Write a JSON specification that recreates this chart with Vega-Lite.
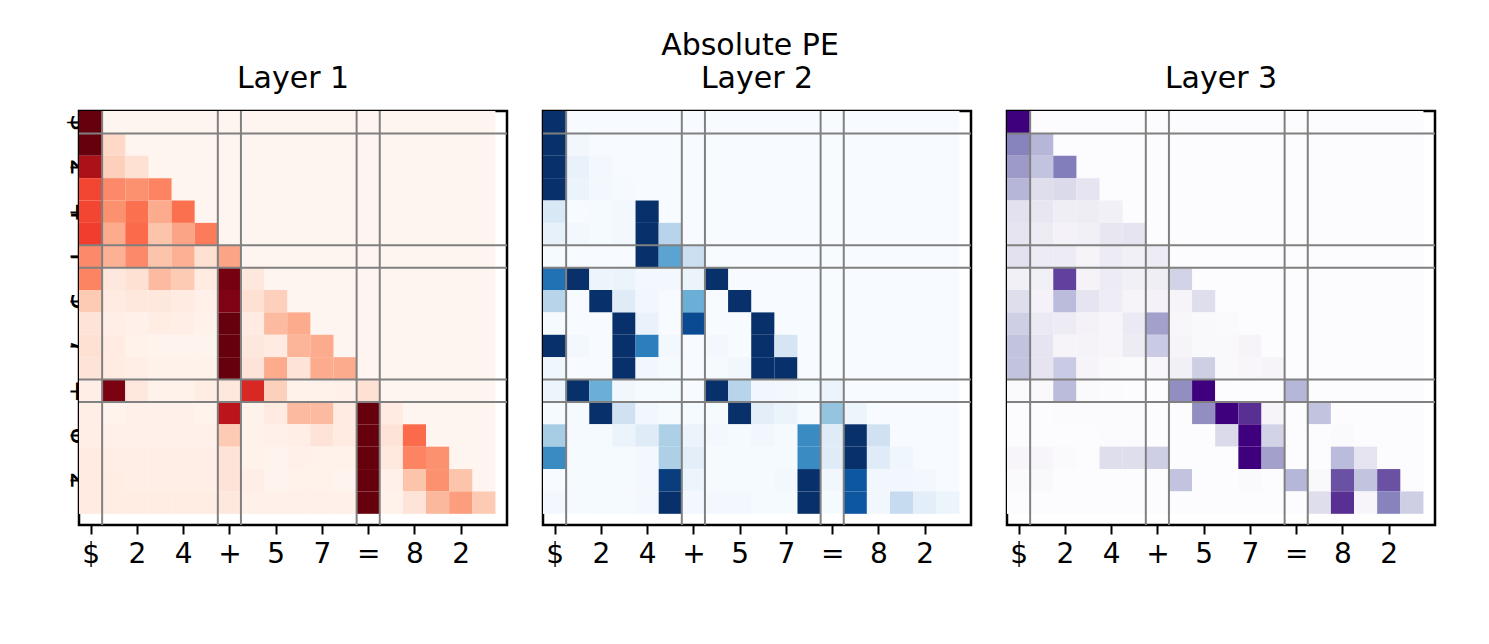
{
  "$schema": "https://vega.github.io/schema/vega-lite/v6.json",
  "padding": {"left": 62, "top": 30, "right": 10, "bottom": 5},
  "background": "white",
  "title": {"text": "Absolute PE", "anchor": "middle", "font": "DejaVu Sans", "fontSize": 30, "fontWeight": "normal", "color": "black", "offset": 2},
  "config": {
    "view": {"stroke": "black", "strokeWidth": 2.5},
    "title": {"font": "DejaVu Sans", "fontSize": 30, "fontWeight": "normal", "color": "black", "offset": 16},
    "axis": {"labelFont": "DejaVu Sans", "labelFontSize": 28, "labelColor": "black", "tickColor": "black", "tickWidth": 2, "tickSize": 9, "domain": false, "grid": false, "title": null, "labelPadding": 6, "labelOverlap": false, "labelFlush": false, "labelBound": false}
  },
  "datasets": {
    "lines": [{"p": 0.5}, {"p": 5.5}, {"p": 6.5}, {"p": 11.5}, {"p": 12.5}],
    "red": [
      {"r":0,"c":0,"v":1},
      {"r":1,"c":0,"v":1},{"r":1,"c":1,"v":0.15},
      {"r":2,"c":0,"v":0.85},{"r":2,"c":1,"v":0.18},{"r":2,"c":2,"v":0.12},
      {"r":3,"c":0,"v":0.6},{"r":3,"c":1,"v":0.4},{"r":3,"c":2,"v":0.38},{"r":3,"c":3,"v":0.42},
      {"r":4,"c":0,"v":0.6},{"r":4,"c":1,"v":0.38},{"r":4,"c":2,"v":0.48},{"r":4,"c":3,"v":0.3},{"r":4,"c":4,"v":0.48},
      {"r":5,"c":0,"v":0.62},{"r":5,"c":1,"v":0.3},{"r":5,"c":2,"v":0.5},{"r":5,"c":3,"v":0.22},{"r":5,"c":4,"v":0.32},{"r":5,"c":5,"v":0.45},
      {"r":6,"c":0,"v":0.4},{"r":6,"c":1,"v":0.28},{"r":6,"c":2,"v":0.4},{"r":6,"c":3,"v":0.22},{"r":6,"c":4,"v":0.28},{"r":6,"c":5,"v":0.12},{"r":6,"c":6,"v":0.32},
      {"r":7,"c":0,"v":0.42},{"r":7,"c":1,"v":0.08},{"r":7,"c":2,"v":0.12},{"r":7,"c":3,"v":0.25},{"r":7,"c":4,"v":0.2},{"r":7,"c":5,"v":0.06},{"r":7,"c":6,"v":0.97},{"r":7,"c":7,"v":0.08},
      {"r":8,"c":0,"v":0.2},{"r":8,"c":1,"v":0.06},{"r":8,"c":2,"v":0.08},{"r":8,"c":3,"v":0.08},{"r":8,"c":4,"v":0.06},{"r":8,"c":5,"v":0.03},{"r":8,"c":6,"v":0.95},{"r":8,"c":7,"v":0.12},{"r":8,"c":8,"v":0.18},
      {"r":9,"c":0,"v":0.1},{"r":9,"c":1,"v":0.04},{"r":9,"c":2,"v":0.03},{"r":9,"c":3,"v":0.05},{"r":9,"c":4,"v":0.04},{"r":9,"c":5,"v":0.02},{"r":9,"c":6,"v":1},{"r":9,"c":7,"v":0.06},{"r":9,"c":8,"v":0.25},{"r":9,"c":9,"v":0.3},
      {"r":10,"c":0,"v":0.12},{"r":10,"c":1,"v":0.06},{"r":10,"c":2,"v":0.02},{"r":10,"c":3,"v":0.01},{"r":10,"c":4,"v":0.01},{"r":10,"c":5,"v":0.01},{"r":10,"c":6,"v":1},{"r":10,"c":7,"v":0.08},{"r":10,"c":8,"v":0.06},{"r":10,"c":9,"v":0.27},{"r":10,"c":10,"v":0.3},
      {"r":11,"c":0,"v":0.1},{"r":11,"c":1,"v":0.06},{"r":11,"c":2,"v":0.04},{"r":11,"c":3,"v":0.02},{"r":11,"c":4,"v":0.02},{"r":11,"c":5,"v":0.02},{"r":11,"c":6,"v":1},{"r":11,"c":7,"v":0.1},{"r":11,"c":8,"v":0.3},{"r":11,"c":9,"v":0.1},{"r":11,"c":10,"v":0.3},{"r":11,"c":11,"v":0.3},
      {"r":12,"c":0,"v":0.04},{"r":12,"c":1,"v":0.96},{"r":12,"c":2,"v":0.08},{"r":12,"c":3,"v":0.02},{"r":12,"c":4,"v":0.02},{"r":12,"c":5,"v":0.05},{"r":12,"c":6,"v":0.08},{"r":12,"c":7,"v":0.7},{"r":12,"c":8,"v":0.18},{"r":12,"c":9,"v":0.02},{"r":12,"c":10,"v":0.02},{"r":12,"c":11,"v":0.03},{"r":12,"c":12,"v":0.12},
      {"r":13,"c":0,"v":0.04},{"r":13,"c":1,"v":0.01},{"r":13,"c":2,"v":0.03},{"r":13,"c":3,"v":0.03},{"r":13,"c":4,"v":0.03},{"r":13,"c":5,"v":0.01},{"r":13,"c":6,"v":0.8},{"r":13,"c":7,"v":0.02},{"r":13,"c":8,"v":0.06},{"r":13,"c":9,"v":0.25},{"r":13,"c":10,"v":0.25},{"r":13,"c":11,"v":0.06},{"r":13,"c":12,"v":1},{"r":13,"c":13,"v":0.06},
      {"r":14,"c":0,"v":0.04},{"r":14,"c":1,"v":0.03},{"r":14,"c":2,"v":0.03},{"r":14,"c":3,"v":0.03},{"r":14,"c":4,"v":0.03},{"r":14,"c":5,"v":0.03},{"r":14,"c":6,"v":0.2},{"r":14,"c":7,"v":0.02},{"r":14,"c":8,"v":0.03},{"r":14,"c":9,"v":0.04},{"r":14,"c":10,"v":0.1},{"r":14,"c":11,"v":0.06},{"r":14,"c":12,"v":1},{"r":14,"c":13,"v":0.1},{"r":14,"c":14,"v":0.5},
      {"r":15,"c":0,"v":0.06},{"r":15,"c":1,"v":0.04},{"r":15,"c":2,"v":0.04},{"r":15,"c":3,"v":0.04},{"r":15,"c":4,"v":0.04},{"r":15,"c":5,"v":0.04},{"r":15,"c":6,"v":0.1},{"r":15,"c":7,"v":0.02},{"r":15,"c":8,"v":0.01},{"r":15,"c":9,"v":0.03},{"r":15,"c":10,"v":0.02},{"r":15,"c":11,"v":0.02},{"r":15,"c":12,"v":1},{"r":15,"c":13,"v":0.07},{"r":15,"c":14,"v":0.42},{"r":15,"c":15,"v":0.38},
      {"r":16,"c":0,"v":0.06},{"r":16,"c":1,"v":0.05},{"r":16,"c":2,"v":0.04},{"r":16,"c":3,"v":0.04},{"r":16,"c":4,"v":0.04},{"r":16,"c":5,"v":0.04},{"r":16,"c":6,"v":0.1},{"r":16,"c":7,"v":0.04},{"r":16,"c":8,"v":0.01},{"r":16,"c":9,"v":0.02},{"r":16,"c":10,"v":0.02},{"r":16,"c":11,"v":0.01},{"r":16,"c":12,"v":1},{"r":16,"c":13,"v":0.03},{"r":16,"c":14,"v":0.22},{"r":16,"c":15,"v":0.38},{"r":16,"c":16,"v":0.22},
      {"r":17,"c":0,"v":0.06},{"r":17,"c":1,"v":0.05},{"r":17,"c":2,"v":0.05},{"r":17,"c":3,"v":0.05},{"r":17,"c":4,"v":0.05},{"r":17,"c":5,"v":0.05},{"r":17,"c":6,"v":0.08},{"r":17,"c":7,"v":0.03},{"r":17,"c":8,"v":0.03},{"r":17,"c":9,"v":0.03},{"r":17,"c":10,"v":0.03},{"r":17,"c":11,"v":0.03},{"r":17,"c":12,"v":1},{"r":17,"c":13,"v":0.02},{"r":17,"c":14,"v":0.1},{"r":17,"c":15,"v":0.26},{"r":17,"c":16,"v":0.34},{"r":17,"c":17,"v":0.2}
    ],
    "blue": [
      {"r":0,"c":0,"v":1},
      {"r":1,"c":0,"v":1},{"r":1,"c":1,"v":0.03},
      {"r":2,"c":0,"v":1},{"r":2,"c":1,"v":0.07},{"r":2,"c":2,"v":0.02},
      {"r":3,"c":0,"v":1},{"r":3,"c":1,"v":0.06},{"r":3,"c":2,"v":0.02},{"r":3,"c":3,"v":0.01},
      {"r":4,"c":0,"v":0.15},{"r":4,"c":1,"v":0},{"r":4,"c":2,"v":0.01},{"r":4,"c":3,"v":0.02},{"r":4,"c":4,"v":1},
      {"r":5,"c":0,"v":0.08},{"r":5,"c":1,"v":0.02},{"r":5,"c":2,"v":0.01},{"r":5,"c":3,"v":0.02},{"r":5,"c":4,"v":1},{"r":5,"c":5,"v":0.3},
      {"r":6,"c":0,"v":0.01},{"r":6,"c":1,"v":0},{"r":6,"c":2,"v":0},{"r":6,"c":3,"v":0},{"r":6,"c":4,"v":1},{"r":6,"c":5,"v":0.55},{"r":6,"c":6,"v":0.22},
      {"r":7,"c":0,"v":0.75},{"r":7,"c":1,"v":1},{"r":7,"c":2,"v":0.05},{"r":7,"c":3,"v":0.06},{"r":7,"c":4,"v":0.02},{"r":7,"c":5,"v":0.02},{"r":7,"c":6,"v":0.06},{"r":7,"c":7,"v":1},
      {"r":8,"c":0,"v":0.3},{"r":8,"c":1,"v":0},{"r":8,"c":2,"v":1},{"r":8,"c":3,"v":0.12},{"r":8,"c":4,"v":0.03},{"r":8,"c":5,"v":0},{"r":8,"c":6,"v":0.5},{"r":8,"c":7,"v":0},{"r":8,"c":8,"v":1},
      {"r":9,"c":0,"v":0.01},{"r":9,"c":1,"v":0},{"r":9,"c":2,"v":0},{"r":9,"c":3,"v":1},{"r":9,"c":4,"v":0.07},{"r":9,"c":5,"v":0},{"r":9,"c":6,"v":0.9},{"r":9,"c":7,"v":0},{"r":9,"c":8,"v":0},{"r":9,"c":9,"v":1},
      {"r":10,"c":0,"v":1},{"r":10,"c":1,"v":0.02},{"r":10,"c":2,"v":0},{"r":10,"c":3,"v":1},{"r":10,"c":4,"v":0.7},{"r":10,"c":5,"v":0.02},{"r":10,"c":6,"v":0},{"r":10,"c":7,"v":0.02},{"r":10,"c":8,"v":0},{"r":10,"c":9,"v":1},{"r":10,"c":10,"v":0.17},
      {"r":11,"c":0,"v":0.04},{"r":11,"c":1,"v":0},{"r":11,"c":2,"v":0},{"r":11,"c":3,"v":1},{"r":11,"c":4,"v":0.03},{"r":11,"c":5,"v":0.01},{"r":11,"c":6,"v":0},{"r":11,"c":7,"v":0.01},{"r":11,"c":8,"v":0.03},{"r":11,"c":9,"v":1},{"r":11,"c":10,"v":1},{"r":11,"c":11,"v":0},
      {"r":12,"c":0,"v":0.05},{"r":12,"c":1,"v":1},{"r":12,"c":2,"v":0.5},{"r":12,"c":3,"v":0.03},{"r":12,"c":4,"v":0.01},{"r":12,"c":5,"v":0.01},{"r":12,"c":6,"v":0},{"r":12,"c":7,"v":1},{"r":12,"c":8,"v":0.3},{"r":12,"c":9,"v":0.03},{"r":12,"c":10,"v":0.02},{"r":12,"c":11,"v":0.01},{"r":12,"c":12,"v":0.06},
      {"r":13,"c":0,"v":0.01},{"r":13,"c":1,"v":0.01},{"r":13,"c":2,"v":1},{"r":13,"c":3,"v":0.2},{"r":13,"c":4,"v":0.03},{"r":13,"c":5,"v":0.01},{"r":13,"c":6,"v":0.01},{"r":13,"c":7,"v":0.01},{"r":13,"c":8,"v":1},{"r":13,"c":9,"v":0.1},{"r":13,"c":10,"v":0.06},{"r":13,"c":11,"v":0.01},{"r":13,"c":12,"v":0.4},{"r":13,"c":13,"v":0.05},
      {"r":14,"c":0,"v":0.35},{"r":14,"c":1,"v":0.01},{"r":14,"c":2,"v":0.01},{"r":14,"c":3,"v":0.06},{"r":14,"c":4,"v":0.12},{"r":14,"c":5,"v":0.33},{"r":14,"c":6,"v":0.06},{"r":14,"c":7,"v":0.02},{"r":14,"c":8,"v":0.01},{"r":14,"c":9,"v":0.03},{"r":14,"c":10,"v":0.01},{"r":14,"c":11,"v":0.65},{"r":14,"c":12,"v":0.12},{"r":14,"c":13,"v":1},{"r":14,"c":14,"v":0.2},
      {"r":15,"c":0,"v":0.65},{"r":15,"c":1,"v":0.01},{"r":15,"c":2,"v":0.01},{"r":15,"c":3,"v":0.01},{"r":15,"c":4,"v":0.02},{"r":15,"c":5,"v":0.33},{"r":15,"c":6,"v":0.1},{"r":15,"c":7,"v":0.01},{"r":15,"c":8,"v":0.01},{"r":15,"c":9,"v":0.01},{"r":15,"c":10,"v":0.01},{"r":15,"c":11,"v":0.65},{"r":15,"c":12,"v":0.12},{"r":15,"c":13,"v":1},{"r":15,"c":14,"v":0.12},{"r":15,"c":15,"v":0.04},
      {"r":16,"c":0,"v":0},{"r":16,"c":1,"v":0.01},{"r":16,"c":2,"v":0.01},{"r":16,"c":3,"v":0.01},{"r":16,"c":4,"v":0.02},{"r":16,"c":5,"v":0.95},{"r":16,"c":6,"v":0.05},{"r":16,"c":7,"v":0.01},{"r":16,"c":8,"v":0.01},{"r":16,"c":9,"v":0.01},{"r":16,"c":10,"v":0.02},{"r":16,"c":11,"v":1},{"r":16,"c":12,"v":0.03},{"r":16,"c":13,"v":0.85},{"r":16,"c":14,"v":0.03},{"r":16,"c":15,"v":0.03},{"r":16,"c":16,"v":0.02},
      {"r":17,"c":0,"v":0.02},{"r":17,"c":1,"v":0.01},{"r":17,"c":2,"v":0.01},{"r":17,"c":3,"v":0.01},{"r":17,"c":4,"v":0.02},{"r":17,"c":5,"v":1},{"r":17,"c":6,"v":0.02},{"r":17,"c":7,"v":0.02},{"r":17,"c":8,"v":0.02},{"r":17,"c":9,"v":0.01},{"r":17,"c":10,"v":0.01},{"r":17,"c":11,"v":1},{"r":17,"c":12,"v":0.01},{"r":17,"c":13,"v":0.85},{"r":17,"c":14,"v":0.03},{"r":17,"c":15,"v":0.25},{"r":17,"c":16,"v":0.1},{"r":17,"c":17,"v":0.05}
    ],
    "purple": [
      {"r":0,"c":0,"v":1},
      {"r":1,"c":0,"v":0.6},{"r":1,"c":1,"v":0.4},
      {"r":2,"c":0,"v":0.5},{"r":2,"c":1,"v":0.35},{"r":2,"c":2,"v":0.62},
      {"r":3,"c":0,"v":0.4},{"r":3,"c":1,"v":0.22},{"r":3,"c":2,"v":0.25},{"r":3,"c":3,"v":0.18},
      {"r":4,"c":0,"v":0.2},{"r":4,"c":1,"v":0.17},{"r":4,"c":2,"v":0.12},{"r":4,"c":3,"v":0.13},{"r":4,"c":4,"v":0.1},
      {"r":5,"c":0,"v":0.18},{"r":5,"c":1,"v":0.14},{"r":5,"c":2,"v":0.08},{"r":5,"c":3,"v":0.1},{"r":5,"c":4,"v":0.17},{"r":5,"c":5,"v":0.18},
      {"r":6,"c":0,"v":0.2},{"r":6,"c":1,"v":0.14},{"r":6,"c":2,"v":0.14},{"r":6,"c":3,"v":0.06},{"r":6,"c":4,"v":0.14},{"r":6,"c":5,"v":0.1},{"r":6,"c":6,"v":0.14},
      {"r":7,"c":0,"v":0.1},{"r":7,"c":1,"v":0.1},{"r":7,"c":2,"v":0.8},{"r":7,"c":3,"v":0.07},{"r":7,"c":4,"v":0.14},{"r":7,"c":5,"v":0.1},{"r":7,"c":6,"v":0.12},{"r":7,"c":7,"v":0.28},
      {"r":8,"c":0,"v":0.22},{"r":8,"c":1,"v":0.08},{"r":8,"c":2,"v":0.38},{"r":8,"c":3,"v":0.18},{"r":8,"c":4,"v":0.13},{"r":8,"c":5,"v":0.06},{"r":8,"c":6,"v":0.08},{"r":8,"c":7,"v":0.06},{"r":8,"c":8,"v":0.22},
      {"r":9,"c":0,"v":0.3},{"r":9,"c":1,"v":0.15},{"r":9,"c":2,"v":0.14},{"r":9,"c":3,"v":0.08},{"r":9,"c":4,"v":0.05},{"r":9,"c":5,"v":0.15},{"r":9,"c":6,"v":0.48},{"r":9,"c":7,"v":0.04},{"r":9,"c":8,"v":0.03},{"r":9,"c":9,"v":0.02},
      {"r":10,"c":0,"v":0.35},{"r":10,"c":1,"v":0.18},{"r":10,"c":2,"v":0.06},{"r":10,"c":3,"v":0.07},{"r":10,"c":4,"v":0.05},{"r":10,"c":5,"v":0.14},{"r":10,"c":6,"v":0.32},{"r":10,"c":7,"v":0.06},{"r":10,"c":8,"v":0.03},{"r":10,"c":9,"v":0.03},{"r":10,"c":10,"v":0.06},
      {"r":11,"c":0,"v":0.35},{"r":11,"c":1,"v":0.18},{"r":11,"c":2,"v":0.32},{"r":11,"c":3,"v":0.06},{"r":11,"c":4,"v":0.03},{"r":11,"c":5,"v":0.02},{"r":11,"c":6,"v":0.04},{"r":11,"c":7,"v":0.1},{"r":11,"c":8,"v":0.3},{"r":11,"c":9,"v":0.03},{"r":11,"c":10,"v":0.04},{"r":11,"c":11,"v":0.06},
      {"r":12,"c":0,"v":0.02},{"r":12,"c":1,"v":0.03},{"r":12,"c":2,"v":0.38},{"r":12,"c":3,"v":0.02},{"r":12,"c":4,"v":0.01},{"r":12,"c":5,"v":0},{"r":12,"c":6,"v":0},{"r":12,"c":7,"v":0.55},{"r":12,"c":8,"v":1},{"r":12,"c":9,"v":0},{"r":12,"c":10,"v":0},{"r":12,"c":11,"v":0},{"r":12,"c":12,"v":0.4},
      {"r":13,"c":0,"v":0},{"r":13,"c":1,"v":0},{"r":13,"c":2,"v":0.01},{"r":13,"c":3,"v":0.01},{"r":13,"c":4,"v":0.01},{"r":13,"c":5,"v":0.01},{"r":13,"c":6,"v":0},{"r":13,"c":7,"v":0},{"r":13,"c":8,"v":0.55},{"r":13,"c":9,"v":1},{"r":13,"c":10,"v":0.85},{"r":13,"c":11,"v":0.06},{"r":13,"c":12,"v":0},{"r":13,"c":13,"v":0.35},
      {"r":14,"c":0,"v":0},{"r":14,"c":1,"v":0},{"r":14,"c":2,"v":0},{"r":14,"c":3,"v":0},{"r":14,"c":4,"v":0.01},{"r":14,"c":5,"v":0.01},{"r":14,"c":6,"v":0},{"r":14,"c":7,"v":0},{"r":14,"c":8,"v":0},{"r":14,"c":9,"v":0.25},{"r":14,"c":10,"v":1},{"r":14,"c":11,"v":0.28},{"r":14,"c":12,"v":0},{"r":14,"c":13,"v":0},{"r":14,"c":14,"v":0.02},
      {"r":15,"c":0,"v":0.05},{"r":15,"c":1,"v":0.05},{"r":15,"c":2,"v":0.02},{"r":15,"c":3,"v":0},{"r":15,"c":4,"v":0.22},{"r":15,"c":5,"v":0.22},{"r":15,"c":6,"v":0.3},{"r":15,"c":7,"v":0},{"r":15,"c":8,"v":0},{"r":15,"c":9,"v":0},{"r":15,"c":10,"v":1},{"r":15,"c":11,"v":0.48},{"r":15,"c":12,"v":0},{"r":15,"c":13,"v":0},{"r":15,"c":14,"v":0.38},{"r":15,"c":15,"v":0.18},
      {"r":16,"c":0,"v":0.02},{"r":16,"c":1,"v":0.03},{"r":16,"c":2,"v":0},{"r":16,"c":3,"v":0},{"r":16,"c":4,"v":0},{"r":16,"c":5,"v":0},{"r":16,"c":6,"v":0},{"r":16,"c":7,"v":0.35},{"r":16,"c":8,"v":0},{"r":16,"c":9,"v":0},{"r":16,"c":10,"v":0.02},{"r":16,"c":11,"v":0},{"r":16,"c":12,"v":0.4},{"r":16,"c":13,"v":0.03},{"r":16,"c":14,"v":0.75},{"r":16,"c":15,"v":0.35},{"r":16,"c":16,"v":0.75},
      {"r":17,"c":0,"v":0},{"r":17,"c":1,"v":0},{"r":17,"c":2,"v":0},{"r":17,"c":3,"v":0},{"r":17,"c":4,"v":0},{"r":17,"c":5,"v":0},{"r":17,"c":6,"v":0},{"r":17,"c":7,"v":0},{"r":17,"c":8,"v":0},{"r":17,"c":9,"v":0},{"r":17,"c":10,"v":0},{"r":17,"c":11,"v":0},{"r":17,"c":12,"v":0},{"r":17,"c":13,"v":0.22},{"r":17,"c":14,"v":0.85},{"r":17,"c":15,"v":0.05},{"r":17,"c":16,"v":0.6},{"r":17,"c":17,"v":0.3}
    ]
  },
  "spacing": 30,
  "resolve": {"scale": {"color": "independent"}},
  "hconcat": [
    {
      "title": "Layer 1",
      "width": 428, "height": 414,
      "layer": [
        {"data": {"values": [{}]}, "mark": {"type": "rect", "fill": "#fff5f0"},
         "encoding": {"x": {"datum": -0.5, "type": "quantitative", "scale": {"domain": [-0.5, 18], "nice": false, "zero": false}, "axis": {"values": [0,1,2,3,4,5,6,7,8,9,10,11,12,13,14,15,16,17], "labelAngle": 0, "labelExpr": "['$','1','2','3','4','5','+','4','5','6','7','8','=','5','8','0','2','3$'][datum.value]"}},
                      "x2": {"datum": 17.5},
                      "y": {"datum": -0.5, "type": "quantitative", "scale": {"domain": [-0.5, 18], "nice": false, "zero": false, "reverse": true}, "axis": {"values": [0,1,2,3,4,5,6,7,8,9,10,11,12,13,14,15,16,17], "labelAngle": 90, "labelAlign": "center", "labelBaseline": "bottom", "labelExpr": "['$','1','2','3','4','5','+','4','5','6','7','8','=','5','8','0','2','3$'][datum.value]"}},
                      "y2": {"datum": 17.5}}},
        {"data": {"name": "red"},
         "transform": [{"calculate": "datum.c - 0.5", "as": "x1"}, {"calculate": "datum.c + 0.5", "as": "x2"}, {"calculate": "datum.r - 0.5", "as": "y1"}, {"calculate": "datum.r + 0.5", "as": "y2"}],
         "mark": {"type": "rect", "stroke": null},
         "encoding": {"x": {"field": "x1", "type": "quantitative"}, "x2": {"field": "x2"}, "y": {"field": "y1", "type": "quantitative"}, "y2": {"field": "y2"},
                      "color": {"field": "v", "type": "quantitative", "scale": {"domain": [0, 0.125, 0.25, 0.375, 0.5, 0.625, 0.75, 0.875, 1], "range": ["#fff5f0","#fee0d2","#fcbba1","#fc9272","#fb6a4a","#ef3b2c","#cb181d","#a50f15","#67000d"]}, "legend": null}}},
        {"data": {"name": "lines"}, "mark": {"type": "rule", "color": "gray", "strokeWidth": 2}, "encoding": {"x": {"field": "p", "type": "quantitative"}}},
        {"data": {"name": "lines"}, "mark": {"type": "rule", "color": "gray", "strokeWidth": 2}, "encoding": {"y": {"field": "p", "type": "quantitative"}}}
      ]
    },
    {
      "title": "Layer 2",
      "width": 428, "height": 414,
      "layer": [
        {"data": {"values": [{}]}, "mark": {"type": "rect", "fill": "#f7fbff"},
         "encoding": {"x": {"datum": -0.5, "type": "quantitative", "scale": {"domain": [-0.5, 18], "nice": false, "zero": false}, "axis": {"values": [0,1,2,3,4,5,6,7,8,9,10,11,12,13,14,15,16,17], "labelAngle": 0, "labelExpr": "['$','1','2','3','4','5','+','4','5','6','7','8','=','5','8','0','2','3$'][datum.value]"}},
                      "x2": {"datum": 17.5},
                      "y": {"datum": -0.5, "type": "quantitative", "scale": {"domain": [-0.5, 18], "nice": false, "zero": false, "reverse": true}, "axis": null},
                      "y2": {"datum": 17.5}}},
        {"data": {"name": "blue"},
         "transform": [{"calculate": "datum.c - 0.5", "as": "x1"}, {"calculate": "datum.c + 0.5", "as": "x2"}, {"calculate": "datum.r - 0.5", "as": "y1"}, {"calculate": "datum.r + 0.5", "as": "y2"}],
         "mark": {"type": "rect", "stroke": null},
         "encoding": {"x": {"field": "x1", "type": "quantitative"}, "x2": {"field": "x2"}, "y": {"field": "y1", "type": "quantitative"}, "y2": {"field": "y2"},
                      "color": {"field": "v", "type": "quantitative", "scale": {"domain": [0, 0.125, 0.25, 0.375, 0.5, 0.625, 0.75, 0.875, 1], "range": ["#f7fbff","#deebf7","#c6dbef","#9ecae1","#6baed6","#4292c6","#2171b5","#08519c","#08306b"]}, "legend": null}}},
        {"data": {"name": "lines"}, "mark": {"type": "rule", "color": "gray", "strokeWidth": 2}, "encoding": {"x": {"field": "p", "type": "quantitative"}}},
        {"data": {"name": "lines"}, "mark": {"type": "rule", "color": "gray", "strokeWidth": 2}, "encoding": {"y": {"field": "p", "type": "quantitative"}}}
      ]
    },
    {
      "title": "Layer 3",
      "width": 428, "height": 414,
      "layer": [
        {"data": {"values": [{}]}, "mark": {"type": "rect", "fill": "#fcfbfd"},
         "encoding": {"x": {"datum": -0.5, "type": "quantitative", "scale": {"domain": [-0.5, 18], "nice": false, "zero": false}, "axis": {"values": [0,1,2,3,4,5,6,7,8,9,10,11,12,13,14,15,16,17], "labelAngle": 0, "labelExpr": "['$','1','2','3','4','5','+','4','5','6','7','8','=','5','8','0','2','3$'][datum.value]"}},
                      "x2": {"datum": 17.5},
                      "y": {"datum": -0.5, "type": "quantitative", "scale": {"domain": [-0.5, 18], "nice": false, "zero": false, "reverse": true}, "axis": null},
                      "y2": {"datum": 17.5}}},
        {"data": {"name": "purple"},
         "transform": [{"calculate": "datum.c - 0.5", "as": "x1"}, {"calculate": "datum.c + 0.5", "as": "x2"}, {"calculate": "datum.r - 0.5", "as": "y1"}, {"calculate": "datum.r + 0.5", "as": "y2"}],
         "mark": {"type": "rect", "stroke": null},
         "encoding": {"x": {"field": "x1", "type": "quantitative"}, "x2": {"field": "x2"}, "y": {"field": "y1", "type": "quantitative"}, "y2": {"field": "y2"},
                      "color": {"field": "v", "type": "quantitative", "scale": {"domain": [0, 0.125, 0.25, 0.375, 0.5, 0.625, 0.75, 0.875, 1], "range": ["#fcfbfd","#efedf5","#dadaeb","#bcbddc","#9e9ac8","#807dba","#6a51a3","#54278f","#3f007d"]}, "legend": null}}},
        {"data": {"name": "lines"}, "mark": {"type": "rule", "color": "gray", "strokeWidth": 2}, "encoding": {"x": {"field": "p", "type": "quantitative"}}},
        {"data": {"name": "lines"}, "mark": {"type": "rule", "color": "gray", "strokeWidth": 2}, "encoding": {"y": {"field": "p", "type": "quantitative"}}}
      ]
    }
  ]
}
